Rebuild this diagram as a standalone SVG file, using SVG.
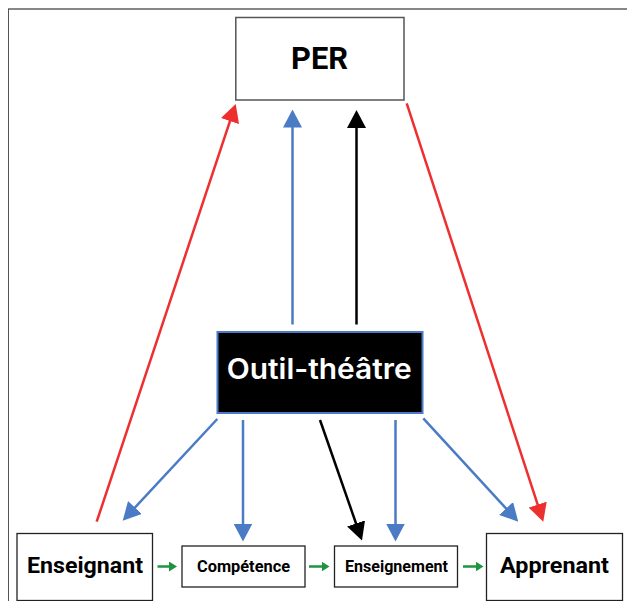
<svg xmlns="http://www.w3.org/2000/svg" width="627" height="601" viewBox="0 0 627 601">
<style>
.box{fill:#fff;stroke:#222;stroke-width:1.3}
.lbl{font-family:Roboto,"Liberation Sans",sans-serif;font-weight:bold;fill:#000;text-anchor:middle}
.blue{stroke:#4a7bc4;stroke-width:2.5;fill:none}
.red{stroke:#ee2f2f;stroke-width:2.5;fill:none}
.blk{stroke:#000;stroke-width:2.5;fill:none}
.grn{stroke:#1f9440;stroke-width:2.5;fill:none}
</style>
<defs>
<marker id="ab" viewBox="0 0 18 19" refX="12" refY="9.5" markerWidth="18" markerHeight="19" markerUnits="userSpaceOnUse" orient="auto"><path d="M0,0 L18,9.5 L0,19 Z" fill="#4a7bc4"/></marker>
<marker id="ar" viewBox="0 0 18 19" refX="12" refY="9.5" markerWidth="18" markerHeight="19" markerUnits="userSpaceOnUse" orient="auto"><path d="M0,0 L18,9.5 L0,19 Z" fill="#ee2f2f"/></marker>
<marker id="ak" viewBox="0 0 18 19" refX="12" refY="9.5" markerWidth="18" markerHeight="19" markerUnits="userSpaceOnUse" orient="auto"><path d="M0,0 L18,9.5 L0,19 Z" fill="#000"/></marker>
<marker id="ag" viewBox="0 0 8 10" refX="1" refY="5" markerWidth="8" markerHeight="10" markerUnits="userSpaceOnUse" orient="auto"><path d="M0,0 L8,5 L0,10 Z" fill="#1f9440"/></marker>
</defs>
<rect width="627" height="601" fill="#fff"/>
<g id="frame">
<line x1="8" y1="9" x2="627" y2="9" stroke="#111" stroke-width="1.2"/>
<line x1="8.5" y1="9" x2="8.5" y2="601" stroke="#555" stroke-width="1"/>
</g>
<g id="connectors">
<line class="red" x1="96.7" y1="521.7" x2="233.8" y2="109.7" marker-end="url(#ar)"/>
<line class="red" x1="406.7" y1="103.3" x2="541.4" y2="516" marker-end="url(#ar)"/>
<line class="blue" x1="292.5" y1="324.5" x2="292.5" y2="115.5" marker-end="url(#ab)"/>
<line class="blk" x1="356.5" y1="324.5" x2="356.5" y2="116" marker-end="url(#ak)"/>
<line class="blue" x1="217.3" y1="419" x2="126.8" y2="516.3" marker-end="url(#ab)"/>
<line class="blue" x1="243" y1="420" x2="243" y2="535.5" marker-end="url(#ab)"/>
<line class="blk" x1="320" y1="420" x2="360" y2="534.8" marker-end="url(#ak)"/>
<line class="blue" x1="395.5" y1="420" x2="395.5" y2="535.5" marker-end="url(#ab)"/>
<line class="blue" x1="423.3" y1="418.3" x2="514.2" y2="517.3" marker-end="url(#ab)"/>
<line class="grn" x1="157.5" y1="566.5" x2="170" y2="566.5" marker-end="url(#ag)"/>
<line class="grn" x1="309" y1="566.5" x2="322.5" y2="566.5" marker-end="url(#ag)"/>
<line class="grn" x1="463" y1="566.5" x2="476.5" y2="566.5" marker-end="url(#ag)"/>
</g>
<g id="per">
<rect x="235.8" y="17.5" width="168.2" height="82.5" fill="#fff" stroke="#555" stroke-width="1.5"/>
<text class="lbl" x="319.5" y="69" font-size="31" textLength="57" lengthAdjust="spacingAndGlyphs">PER</text>
</g>
<g id="outil">
<rect x="217.5" y="332" width="205" height="81" fill="#000" stroke="#4a7bc4" stroke-width="2"/>
<text x="319.2" y="379" font-family="Inter,Roboto,'Liberation Sans',sans-serif" font-weight="600" font-size="28" fill="#fff" text-anchor="middle" textLength="185" lengthAdjust="spacingAndGlyphs">Outil-théâtre</text>
</g>
<g id="enseignant">
<rect class="box" x="17" y="533.5" width="135.5" height="67"/>
<text class="lbl" x="85" y="573.3" font-size="22" textLength="116" lengthAdjust="spacingAndGlyphs">Enseignant</text>
</g>
<g id="competence">
<rect class="box" x="182" y="546" width="123" height="41"/>
<text class="lbl" x="243.5" y="571.7" font-size="16" textLength="93" lengthAdjust="spacingAndGlyphs">Compétence</text>
</g>
<g id="enseignement">
<rect class="box" x="334.5" y="546" width="123" height="41"/>
<text class="lbl" x="396.5" y="571.7" font-size="16" textLength="103" lengthAdjust="spacingAndGlyphs">Enseignement</text>
</g>
<g id="apprenant">
<rect class="box" x="486.5" y="533.5" width="136" height="67"/>
<text class="lbl" x="554.5" y="573.3" font-size="22" textLength="109" lengthAdjust="spacingAndGlyphs">Apprenant</text>
</g>
</svg>
